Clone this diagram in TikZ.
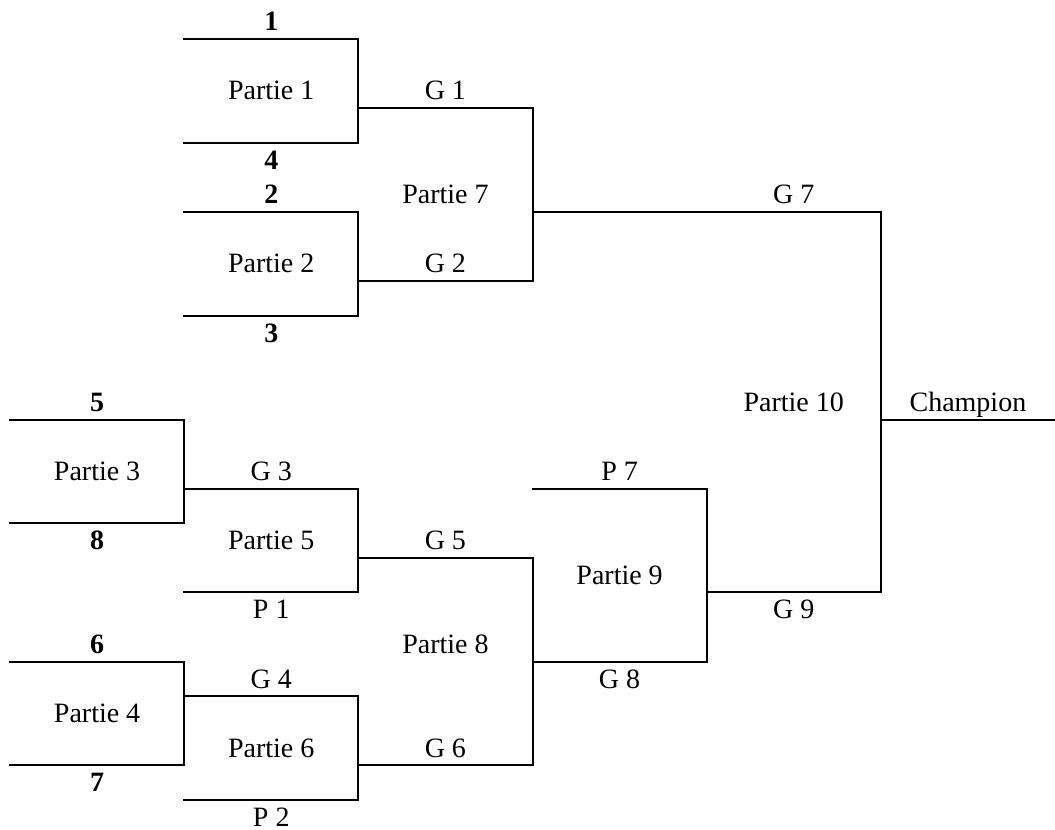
\documentclass[tikz,border=0pt]{standalone}
\usepackage{fontspec}
\setmainfont{Liberation Serif}
\tikzstyle{trait}=[line width=1.5pt, line cap=rect]
\tikzstyle{annot}=[align=center, inner sep=0pt, anchor=center, text height=13.6pt, text depth=0pt, font=\fontsize{21}{24}\selectfont]
\tikzstyle{seed}=[annot, font=\fontsize{21}{24}\selectfont\bfseries]
\newcommand{\crochet}[4]
{
  \draw[trait] (#1,#2) -- (#4,#2) -- (#4,#3) -- (#1,#3);
}

\begin{document}
\begin{tikzpicture}[x=130.65pt, y=-25.95pt]
	\useasboundingbox (-0.0574,-1.127) rectangle (6.0,22.861);

	% premier tour
	\crochet{1}{0}{3}{2}
	\crochet{1}{5}{8}{2}
	\crochet{0}{11}{14}{1}
	\crochet{0}{18}{21}{1}
	% deuxieme tour
	\crochet{1}{13}{16}{2}
	\crochet{1}{19}{22}{2}
	\crochet{2}{2}{7}{3}
	\crochet{2}{15}{21}{3}
	\crochet{3}{13}{18}{4}
	% finale
	\coordinate (g7a) at (3,5);
	\coordinate (g9a) at (4,16);
	\coordinate (finale) at (5,11);
	\coordinate (bord) at (6,11);
	\draw[trait] (g7a) -- (5,5) -- (5,16) -- (g9a);
	\draw[trait] (finale) -- (bord);

	\node[seed] (s1) at (1.5,-0.5) {1};
	\node[annot] (p1) at (1.5,1.5) {Partie 1};
	\node[seed] (s4) at (1.5,3.5) {4};
	\node[seed] (s2) at (1.5,4.5) {2};
	\node[annot] (p2) at (1.5,6.5) {Partie 2};
	\node[seed] (s3) at (1.5,8.5) {3};

	\node[annot] (g1) at (2.5,1.5) {G 1};
	\node[annot] (p7) at (2.5,4.5) {Partie 7};
	\node[annot] (g2) at (2.5,6.5) {G 2};

	\node[annot] (g7) at (4.5,4.5) {G 7};
	\node[annot] (p10) at (4.5,10.5) {Partie 10};
	\node[annot] (champ) at (5.5,10.5) {Champion};

	\node[seed] (s5) at (0.5,10.5) {5};
	\node[annot] (p3) at (0.5,12.5) {Partie 3};
	\node[seed] (s8) at (0.5,14.5) {8};
	\node[seed] (s6) at (0.5,17.5) {6};
	\node[annot] (p4) at (0.5,19.5) {Partie 4};
	\node[seed] (s7) at (0.5,21.5) {7};

	\node[annot] (g3) at (1.5,12.5) {G 3};
	\node[annot] (p5) at (1.5,14.5) {Partie 5};
	\node[annot] (l1) at (1.5,16.5) {P 1};
	\node[annot] (g4) at (1.5,18.5) {G 4};
	\node[annot] (p6) at (1.5,20.5) {Partie 6};
	\node[annot] (l2) at (1.5,22.5) {P 2};

	\node[annot] (g5) at (2.5,14.5) {G 5};
	\node[annot] (p8) at (2.5,17.5) {Partie 8};
	\node[annot] (g6) at (2.5,20.5) {G 6};

	\node[annot] (l7) at (3.5,12.5) {P 7};
	\node[annot] (p9) at (3.5,15.5) {Partie 9};
	\node[annot] (g8) at (3.5,18.5) {G 8};
	\node[annot] (g9) at (4.5,16.5) {G 9};

\end{tikzpicture}
\end{document}
